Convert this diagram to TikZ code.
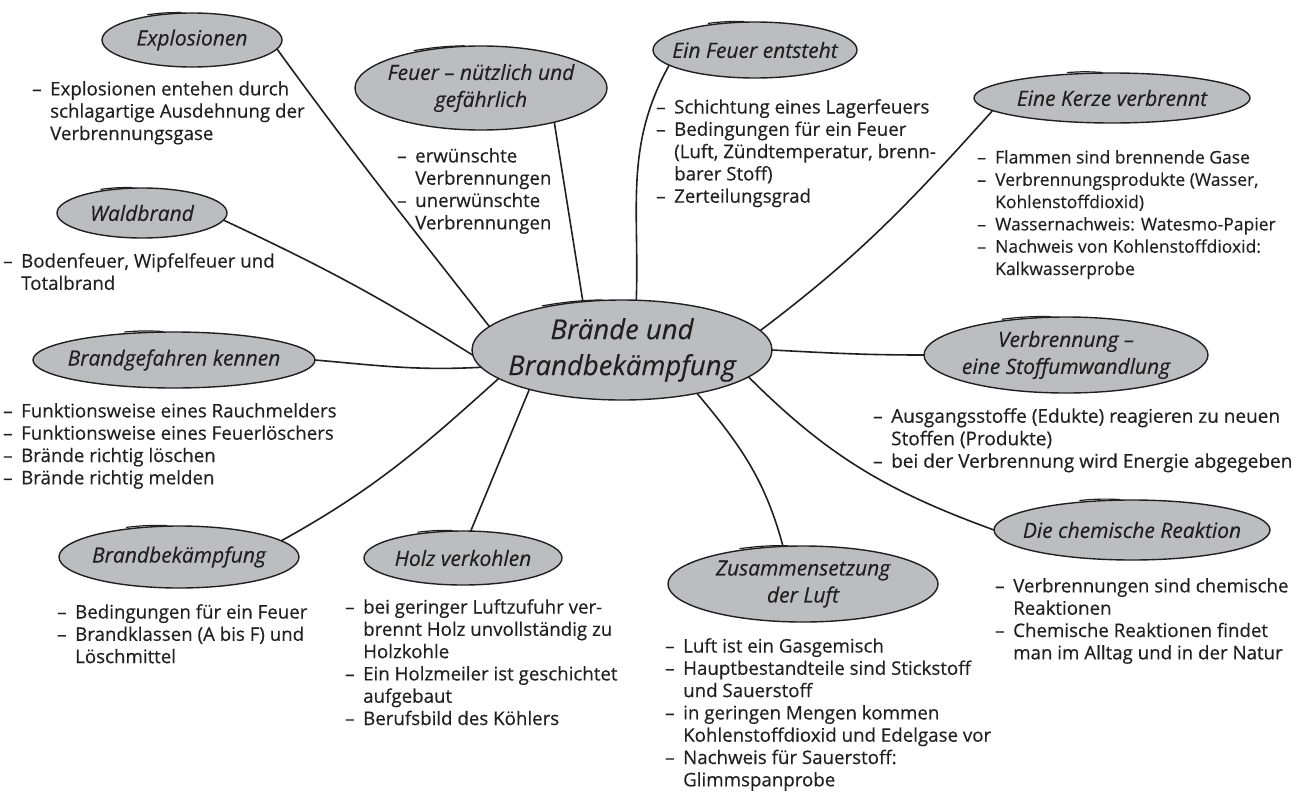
\documentclass[tikz,border=0pt]{standalone}
\usepackage{fontspec}
\setmainfont{Open Sans}[FakeBold=0.35]
\usetikzlibrary{shapes.geometric}
\definecolor{bubfill}{RGB}{188,189,192}
\definecolor{ink}{RGB}{35,31,32}
\newcommand\bl{\makebox[18pt][l]{–}}
\newcommand\ct{\hspace*{18pt}}
\tikzset{
  bub/.style={ellipse, draw=ink, fill=bubfill, line width=1.4pt, inner sep=0pt, outer sep=0pt},
  ttl/.style={font=\fontsize{21}{27}\selectfont\itshape, text=ink, align=center, inner sep=0pt},
  bigttl/.style={font=\fontsize{27.5}{36}\selectfont\itshape, text=ink, align=center, inner sep=0pt},
  txt/.style={font=\fontsize{18.7}{22.3}\selectfont, text=ink, align=left, anchor=north west, inner sep=0pt},
  link/.style={draw=ink, line width=1.6pt},
  brush/.style={draw=ink, line width=1.2pt, line cap=round},
}
\begin{document}
\begin{tikzpicture}[x=1pt,y=-1pt]
\useasboundingbox[fill=white] (0,0) rectangle (1305,792);

% ---------- bubbles ----------
\node[bub, minimum width=300pt, minimum height=100pt] (c) at (622,350) {};
\node[bub, minimum width=180pt, minimum height=54pt] (expl) at (192,40) {};
\node[bub, minimum width=252pt, minimum height=84pt] (feuer) at (481,88) {};
\node[bub, minimum width=204pt, minimum height=56pt] (entst) at (755,50) {};
\node[bub, minimum width=276pt, minimum height=50pt] (kerze) at (1112,98) {};
\node[bub, minimum width=170pt, minimum height=50pt] (wald) at (142,213) {};
\node[bub, minimum width=282pt, minimum height=56pt] (gefahr) at (174,360) {};
\node[bub, minimum width=284pt, minimum height=76pt] (verbr) at (1066,355) {};
\node[bub, minimum width=276pt, minimum height=60pt] (chem) at (1132,530) {};
\node[bub, minimum width=240pt, minimum height=62pt] (bekampf) at (179,557) {};
\node[bub, minimum width=198pt, minimum height=54pt] (holz) at (463,558) {};
\node[bub, minimum width=270pt, minimum height=76pt] (luft) at (803,584) {};

% brush strokes
\foreach \n in {c,expl,feuer,entst,kerze,wald,gefahr,verbr,chem,bekampf,holz,luft}{
  \draw[brush] ([yshift=1.8pt]\n.152) to[bend left=4] ([yshift=0.6pt]\n.112);
}

% ---------- titles ----------
\node[bigttl] (c-t) at (c) {Brände und\\Brandbekämpfung};
\node[ttl] (expl-t) at (expl) {Explosionen};
\node[ttl] (feuer-t) at (feuer) {Feuer – nützlich und\\gefährlich};
\node[ttl] (entst-t) at (entst) {Ein Feuer entsteht};
\node[ttl] (kerze-t) at (kerze) {Eine Kerze verbrennt};
\node[ttl] (wald-t) at (wald) {Waldbrand};
\node[ttl] (gefahr-t) at (gefahr) {Brandgefahren kennen};
\node[ttl] (verbr-t) at (verbr) {Verbrennung –\\eine Stoffumwandlung};
\node[ttl] (chem-t) at (chem) {Die chemische Reaktion};
\node[ttl] (bekampf-t) at (bekampf) {Brandbekämpfung};
\node[ttl] (holz-t) at (holz) {Holz verkohlen};
\node[ttl] (luft-t) at (luft) {Zusammensetzung\\der Luft};

% ---------- connectors ----------
\draw[link] (c.170) to[out=128,in=306] (expl.-6);
\draw[link] (c.182) to[out=148,in=335] (wald.-5);
\draw[link] (c.187) to[out=183,in=-5] (gefahr.0);
\draw[link] (c.193) to[out=222,in=29] (bekampf.9);
\draw[link] (c.203) -- (holz.74);
\draw[link] (c.129) -- (feuer.-25);
\draw[link] (c.74) to[out=88,in=241] (entst.190);
\draw[link] (c.8) to[out=37,in=228] (kerze.186);
\draw[link] (c.0) to[out=-3,in=180] (verbr.180);
\draw[link] (c.-12) to[out=-45,in=160] (chem.180);
\draw[link] (c.-30) to[out=-50,in=105] (luft.118);

% ---------- bullet texts ----------
\node[txt] (expl-b) at (32,81) {\bl Explosionen entehen durch\\\ct schlagartige Ausdehnung der\\\ct Verbrennungsgase};
\node[txt] (feuer-b) at (397,148) {\bl erwünschte\\\ct Verbrennungen\\\bl unerwünschte\\\ct Verbrennungen};
\node[txt] (entst-b) at (656,99) {\bl Schichtung eines Lagerfeuers\\\bl Bedingungen für ein Feuer\\\ct (Luft, Zündtemperatur, brenn-\\\ct barer Stoff)\\\bl Zerteilungsgrad};
\node[txt, font=\fontsize{17.5}{22.3}\selectfont] (kerze-b) at (977,150) {\bl Flammen sind brennende Gase\\\bl Verbrennungsprodukte (Wasser,\\\ct Kohlenstoffdioxid)\\\bl Wassernachweis: Watesmo-Papier\\\bl Nachweis von Kohlenstoffdioxid:\\\ct Kalkwasserprobe};
\node[txt] (wald-b) at (3,253) {\bl Bodenfeuer, Wipfelfeuer und\\\ct Totalbrand};
\node[txt] (gefahr-b) at (3,403) {\bl Funktionsweise eines Rauchmelders\\\bl Funktionsweise eines Feuerlöschers\\\bl Brände richtig löschen\\\bl Brände richtig melden};
\node[txt, font=\fontsize{19}{22.5}\selectfont] (verbr-b) at (873,408) {\bl Ausgangsstoffe (Edukte) reagieren zu neuen\\\ct Stoffen (Produkte)\\\bl bei der Verbrennung wird Energie abgegeben};
\node[txt] (chem-b) at (995,578) {\bl Verbrennungen sind chemische\\\ct Reaktionen\\\bl Chemische Reaktionen findet\\\ct man im Alltag und in der Natur};
\node[txt] (bekampf-b) at (57,604) {\bl Bedingungen für ein Feuer\\\bl Brandklassen (A bis F) und\\\ct Löschmittel};
\node[txt] (holz-b) at (345,599) {\bl bei geringer Luftzufuhr ver-\\\ct brennt Holz unvollständig zu\\\ct Holzkohle\\\bl Ein Holzmeiler ist geschichtet\\\ct aufgebaut\\\bl Berufsbild des Köhlers};
\node[txt] (luft-b) at (665,638) {\bl Luft ist ein Gasgemisch\\\bl Hauptbestandteile sind Stickstoff\\\ct und Sauerstoff\\\bl in geringen Mengen kommen\\\ct Kohlenstoffdioxid und Edelgase vor\\\bl Nachweis für Sauerstoff:\\\ct Glimmspanprobe};
\end{tikzpicture}
\end{document}
